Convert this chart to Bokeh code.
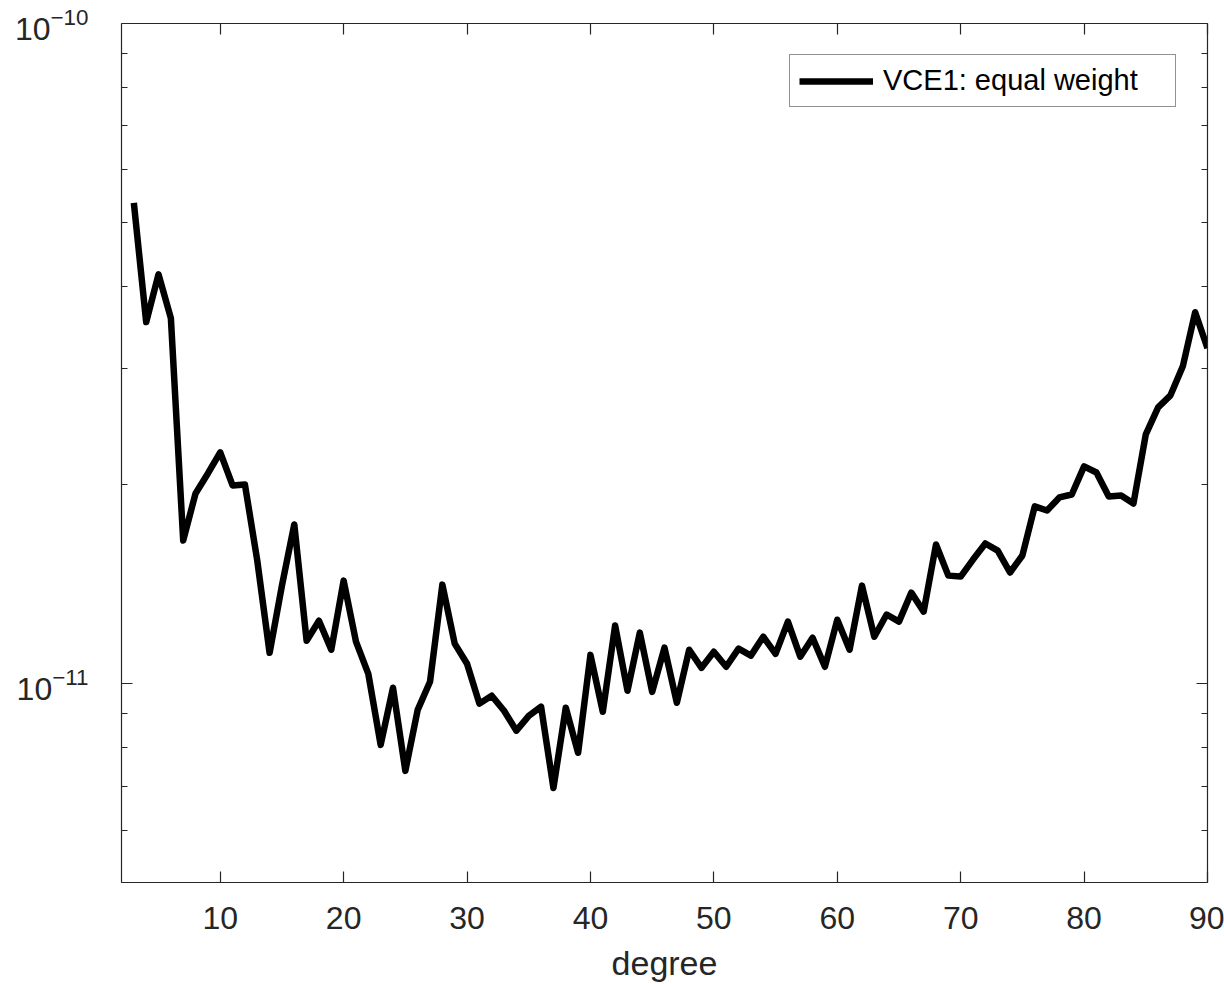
from bokeh.plotting import figure
from bokeh.models import FixedTicker, LinearAxis, LogTickFormatter, Range1d
from bokeh.embed import file_html
from bokeh.resources import INLINE

# spherical-harmonic degree and the estimated variance component (VCE1, equal weighting)
degree = list(range(3, 91))
variance = [v * 1e-11 for v in [
    5.35, 3.53, 4.17, 3.58, 1.648, 1.942, 2.082, 2.241, 1.997, 2.004,   # 3-12
    1.537, 1.114, 1.408, 1.743, 1.162, 1.246, 1.126, 1.433, 1.158, 1.035,  # 13-22
    0.808, 0.986, 0.738, 0.913, 1.007, 1.413, 1.150, 1.072, 0.933, 0.959,  # 23-32
    0.910, 0.849, 0.894, 0.923, 0.695, 0.920, 0.786, 1.106, 0.907, 1.225,  # 33-42
    0.976, 1.195, 0.972, 1.134, 0.936, 1.126, 1.057, 1.118, 1.061, 1.130,  # 43-52
    1.103, 1.178, 1.110, 1.242, 1.099, 1.174, 1.061, 1.250, 1.126, 1.408,  # 53-62
    1.178, 1.273, 1.242, 1.374, 1.286, 1.625, 1.458, 1.453, 1.542, 1.631,  # 63-72
    1.591, 1.474, 1.564, 1.856, 1.830, 1.915, 1.935, 2.134, 2.089, 1.921,  # 73-82
    1.928, 1.875, 2.386, 2.622, 2.734, 3.025, 3.654, 3.222,                # 83-90
]]

x_ticks = [10, 20, 30, 40, 50, 60, 70, 80, 90]
y_major = [1e-11, 1e-10]
y_minor = [m * 10.0 ** e for e in (-12, -11) for m in range(2, 10)]

FONT = "Liberation Sans"
INK = "#262626"

p = figure(
    width=1224, height=984,
    x_range=Range1d(2, 90), y_range=Range1d(5e-12, 1e-10),
    y_axis_type="log",
    output_backend="svg", toolbar_location=None,
    min_border_left=121, min_border_right=17,
    min_border_top=23, min_border_bottom=102,
)
p.outline_line_color = None
p.xgrid.visible = False
p.ygrid.visible = False
p.background_fill_color = "white"
p.border_fill_color = "white"

p.line(degree, variance, line_color="black", line_width=6.5, line_join="round",
       legend_label="VCE1: equal weight")

xt = FixedTicker(ticks=x_ticks)
yt = FixedTicker(ticks=y_major, minor_ticks=y_minor)


def style(ax):
    ax.axis_line_color = INK
    ax.axis_line_width = 1.2
    ax.major_tick_line_color = INK
    ax.minor_tick_line_color = INK
    ax.major_tick_line_width = 1.2
    ax.minor_tick_line_width = 1.2
    ax.major_tick_in = 11
    ax.major_tick_out = 0
    ax.minor_tick_in = 6
    ax.minor_tick_out = 0
    ax.major_label_text_font = FONT
    ax.major_label_text_color = INK
    ax.major_label_text_font_size = "32px"


def tick_only(ax):
    # mirrored box edge: ticks, no labels
    style(ax)
    ax.major_label_text_color = None
    ax.major_label_text_font_size = "2px"
    ax.major_label_standoff = 0


xa = p.xaxis[0]
xa.ticker = xt
style(xa)
xa.major_label_standoff = 24
xa.axis_label = "degree"
xa.axis_label_text_font = FONT
xa.axis_label_text_font_size = "34px"
xa.axis_label_text_font_style = "normal"
xa.axis_label_text_color = INK
xa.axis_label_standoff = 12

ya = p.yaxis[0]
ya.ticker = yt
ya.formatter = LogTickFormatter()
style(ya)
ya.major_label_standoff = 33

top = LinearAxis(ticker=xt)
tick_only(top)
p.add_layout(top, "above")

right = LinearAxis(ticker=yt)
tick_only(right)
p.add_layout(right, "right")

lg = p.legend[0]
lg.location = "top_right"
lg.margin = 31
lg.padding = 9
lg.spacing = 0
lg.glyph_width = 74
lg.label_standoff = 10
lg.label_width = 283
lg.label_text_font = FONT
lg.label_text_font_size = "29px"
lg.label_text_color = "black"
lg.border_line_color = INK
lg.border_line_width = 1.2
lg.background_fill_color = "white"
lg.background_fill_alpha = 1.0

open("out.html", "w").write(file_html(p, INLINE))
